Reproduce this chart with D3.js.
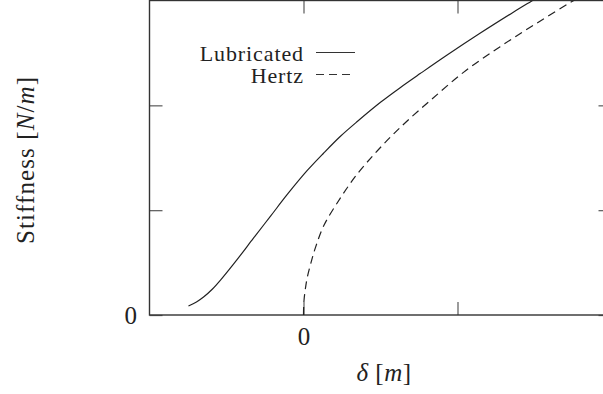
<!DOCTYPE html>
<html>
<head>
<meta charset="utf-8">
<script src="https://cdn.jsdelivr.net/npm/d3@7"></script>
<style>
  html, body { margin: 0; padding: 0; background: #fff; }
  svg { display: block; }
  text { font-family: "Liberation Serif", "DejaVu Serif", serif; fill: #222; }
</style>
</head>
<body>
<svg id="chart" width="603" height="394"></svg>
<script>
// Stiffness versus approach, lubricated contact against the dry Hertz solution
const lubricatedDelta = [-0.747, -0.695, -0.649, -0.591, -0.539, -0.429, -0.325, -0.214, -0.104, 0.026, 0.130, 0.240, 0.351, 0.500, 0.630, 0.760, 0.935, 1.146, 1.360, 1.477, 1.600];
const lubricatedStiffness = [0.086, 0.124, 0.171, 0.248, 0.333, 0.533, 0.733, 0.943, 1.152, 1.381, 1.543, 1.705, 1.848, 2.029, 2.171, 2.305, 2.482, 2.687, 2.886, 2.991, 3.100];

const hertzDelta = [0, 0.001, 0.004, 0.012, 0.024, 0.05, 0.078, 0.132, 0.240, 0.349, 0.457, 0.565, 0.673, 0.825, 1.041, 1.277, 1.500, 1.755, 1.950];
const hertzStiffness = [0, 0.075, 0.15, 0.248, 0.355, 0.506, 0.645, 0.853, 1.117, 1.345, 1.530, 1.698, 1.851, 2.048, 2.317, 2.560, 2.770, 3.000, 3.160];

const seriesNames = ["Lubricated", "Hertz"];
const xTicks = [0, 1];
const xTickLabels = ["0", ""];
const yTicks = [0, 1, 2];
const yTickLabels = ["0", "", ""];

const svg = d3.select("#chart");
const plotLeft = 149.5, plotRight = 611.5, plotTop = 0.5, plotBottom = 315;

const x = d3.scaleLinear().domain([-1, 2]).range([plotLeft, plotRight]);
const y = d3.scaleLinear().domain([0, 3]).range([plotBottom, plotTop]);

svg.append("defs").append("clipPath").attr("id", "plot-clip")
  .append("rect")
  .attr("x", plotLeft).attr("y", plotTop)
  .attr("width", plotRight - plotLeft).attr("height", plotBottom - plotTop);

// Inward ticks on all four sides
const tickLen = 13;
function styleAxis(g) {
  g.select(".domain").remove();
  g.selectAll(".tick line").attr("stroke", "#666").attr("stroke-width", 1.3);
  g.selectAll(".tick text").attr("fill", "#222")
    .style("font-family", "'Liberation Serif', serif").style("font-size", "25px");
}

svg.append("g").attr("transform", `translate(0,${plotBottom})`)
  .call(d3.axisBottom(x).tickValues(xTicks).tickSize(-tickLen).tickPadding(12)
    .tickFormat((d, i) => xTickLabels[i]))
  .call(styleAxis);

svg.append("g").attr("transform", `translate(0,${plotTop})`)
  .call(d3.axisTop(x).tickValues(xTicks).tickSize(-tickLen).tickFormat(""))
  .call(styleAxis);

svg.append("g").attr("transform", `translate(${plotLeft},0)`)
  .call(d3.axisLeft(y).tickValues(yTicks).tickSize(-tickLen).tickPadding(12.5)
    .tickFormat((d, i) => yTickLabels[i]))
  .call(styleAxis);

svg.append("g").attr("transform", `translate(${plotRight},0)`)
  .call(d3.axisRight(y).tickValues(yTicks).tickSize(-tickLen).tickFormat(""))
  .call(styleAxis);

// Frame
svg.append("rect")
  .attr("x", plotLeft).attr("y", plotTop)
  .attr("width", plotRight - plotLeft).attr("height", plotBottom - plotTop)
  .attr("fill", "none").attr("stroke", "#333").attr("stroke-width", 1.4);

// Curves
const line = d3.line()
  .x(d => x(d[0])).y(d => y(d[1]))
  .curve(d3.curveCatmullRom.alpha(0.5));

const lubricated = lubricatedDelta.map((d, i) => [d, lubricatedStiffness[i]]);
const hertz = hertzDelta.map((d, i) => [d, hertzStiffness[i]]);

const plot = svg.append("g").attr("clip-path", "url(#plot-clip)");
plot.append("path").datum(lubricated)
  .attr("d", line).attr("fill", "none")
  .attr("stroke", "#222").attr("stroke-width", 1.2);
plot.append("path").datum(hertz)
  .attr("d", line).attr("fill", "none")
  .attr("stroke", "#222").attr("stroke-width", 1.2)
  .attr("stroke-dasharray", "8,5");

// Legend
const legend = svg.append("g");
const legendRows = [
  { name: seriesNames[0], dash: null, y: 60.5 },
  { name: seriesNames[1], dash: "8,5", y: 82.5 }
];
legendRows.forEach(r => {
  legend.append("text")
    .attr("x", 304).attr("y", r.y)
    .attr("text-anchor", "end")
    .style("font-size", "22px")
    .style("letter-spacing", "0.9px")
    .text(r.name);
  legend.append("line")
    .attr("x1", 316).attr("x2", 355)
    .attr("y1", r.y - 8).attr("y2", r.y - 8)
    .attr("stroke", "#333").attr("stroke-width", 1.2)
    .attr("stroke-dasharray", r.dash);
});

// Axis titles
const yTitle = svg.append("text")
  .attr("transform", "translate(33.5,160) rotate(-90)")
  .attr("text-anchor", "middle")
  .style("font-size", "25px")
  .style("letter-spacing", "1.1px");
yTitle.append("tspan").text("Stiffness [");
yTitle.append("tspan").style("font-style", "italic").text("N");
yTitle.append("tspan").text("/");
yTitle.append("tspan").style("font-style", "italic").text("m");
yTitle.append("tspan").text("]");

const xTitle = svg.append("text")
  .attr("x", 384).attr("y", 381)
  .attr("text-anchor", "middle")
  .style("font-size", "25px")
  .style("letter-spacing", "0.5px");
xTitle.append("tspan").style("font-style", "italic").text("δ");
xTitle.append("tspan").text(" [");
xTitle.append("tspan").style("font-style", "italic").text("m");
xTitle.append("tspan").text("]");
</script>
</body>
</html>
